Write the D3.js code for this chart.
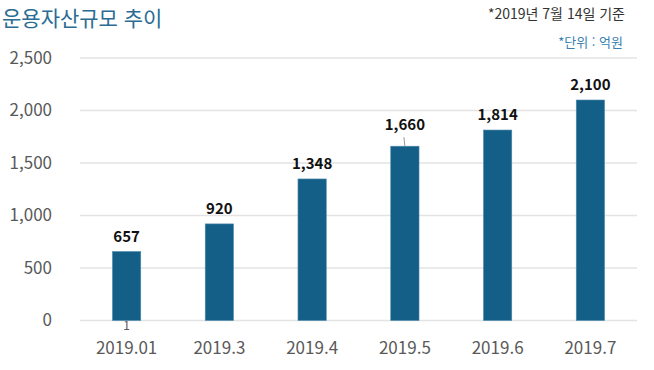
<!DOCTYPE html>
<html lang="ko">
<head>
<meta charset="UTF-8">
<title>운용자산규모 추이</title>
<script src="https://cdn.jsdelivr.net/npm/d3@7"></script>
<style>
  body { margin: 0; background: #fff; }
  svg text { font-family: "Noto Sans CJK KR", "Noto Sans", sans-serif; }
</style>
</head>
<body>
<div id="grafica"></div>
<script>
// datos
const months = ['2019.01', '2019.3', '2019.4', '2019.5', '2019.6', '2019.7']
const assets = [657, 920, 1348, 1660, 1814, 2100]
const yTicks = [0, 500, 1000, 1500, 2000, 2500]

const ancho = 654, alto = 370
const m = { left: 80, right: 17, top: 58, bottom: 49.5 }

const svg = d3.select('#grafica').append('svg')
  .attr('width', ancho).attr('height', alto)

const x = d3.scaleBand()
  .domain(months)
  .range([m.left, ancho - m.right])
  .paddingInner(0.695).paddingOuter(0.35)

const y = d3.scaleLinear()
  .domain([0, 2500])
  .range([alto - m.bottom, m.top])

// grid lines
svg.append('g')
  .selectAll('line')
  .data(yTicks)
  .join('line')
  .attr('x1', m.left).attr('x2', ancho - m.right)
  .attr('y1', d => y(d)).attr('y2', d => y(d))
  .attr('stroke', '#e3e3e3').attr('stroke-width', 1.3)

// y axis labels
const yAxis = svg.append('g')
  .attr('transform', `translate(${m.left - 25},0)`)
  .call(d3.axisLeft(y).tickValues(yTicks).tickSize(0).tickFormat(d3.format(',')))
yAxis.select('.domain').remove()
yAxis.selectAll('text')
  .attr('font-family', 'Open Sans, sans-serif')
  .attr('font-size', 17).attr('fill', '#595959')

// x axis labels
const xAxis = svg.append('g')
  .attr('transform', `translate(0,${alto - m.bottom + 18})`)
  .call(d3.axisBottom(x).tickSize(0))
xAxis.select('.domain').remove()
xAxis.selectAll('text')
  .attr('font-family', 'Open Sans, sans-serif')
  .attr('font-size', 17).attr('fill', '#595959')

// bars
svg.append('g')
  .selectAll('rect')
  .data(assets)
  .join('rect')
  .attr('x', (d, i) => x(months[i]))
  .attr('y', d => y(d))
  .attr('width', x.bandwidth())
  .attr('height', d => y(0) - y(d))
  .attr('fill', '#135f87')
  .attr('stroke', '#4f8cae').attr('stroke-width', 0.6)

// value labels (1,660 sits higher with a small leader line)
const lift = [10, 10, 10, 16, 10, 10]
svg.append('g')
  .selectAll('text')
  .data(assets)
  .join('text')
  .attr('x', (d, i) => x(months[i]) + x.bandwidth() / 2)
  .attr('y', (d, i) => y(d) - lift[i])
  .attr('text-anchor', 'middle')
  .attr('font-family', 'Open Sans, sans-serif')
  .attr('font-weight', 'bold')
  .attr('font-size', 15).attr('fill', '#111')
  .text(d => d3.format(',')(d))

const cx4 = x(months[3]) + x.bandwidth() / 2
svg.append('line')
  .attr('x1', cx4 - 1).attr('y1', y(assets[3]) - 9)
  .attr('x2', cx4).attr('y2', y(assets[3]))
  .attr('stroke', '#999').attr('stroke-width', 1)

// stray "1" under the first bar
svg.append('text')
  .attr('x', x(months[0]) + x.bandwidth() / 2)
  .attr('y', y(0) + 9)
  .attr('text-anchor', 'middle')
  .attr('font-family', 'Open Sans, sans-serif')
  .attr('font-size', 12).attr('fill', '#595959')
  .text('1')

// titulos
svg.append('text')
  .attr('x', 2).attr('y', 26)
  .attr('font-size', 21).attr('fill', '#2b6c94')
  .text('운용자산규모 추이')

svg.append('text')
  .attr('x', 625).attr('y', 19)
  .attr('text-anchor', 'end')
  .attr('font-family', '"Noto Sans CJK KR", serif')
  .attr('font-size', 14).attr('fill', '#333')
  .text('*2019년 7월 14일 기준')

svg.append('text')
  .attr('x', 623).attr('y', 47)
  .attr('text-anchor', 'end')
  .attr('font-size', 13).attr('fill', '#3a7fb2')
  .text('*단위 : 억원')
</script>
</body>
</html>
